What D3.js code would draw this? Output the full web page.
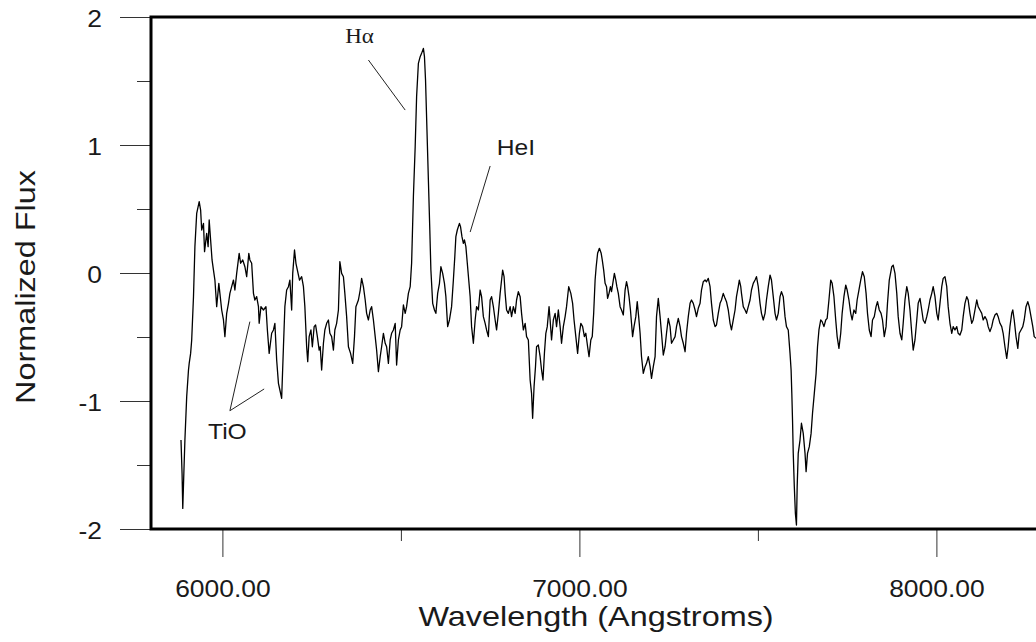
<!DOCTYPE html>
<html><head><meta charset="utf-8">
<script src="https://cdn.jsdelivr.net/npm/d3@7"></script>
<style>html,body{margin:0;padding:0;background:#fff;overflow:hidden}</style>
</head><body><svg id="chart" width="1036" height="642"></svg>
<script>
// ---- data ----
const wavelength = [
5884,5887,5889,5892,5895,5900,5905,5907,5911,5914,5919,5923,5928,5935,5939,5942,5947,5950,5956,5960,5963,5967,5971,5975,5979,5984,5990,5993,5998,6003,6007,6012,6017,6021,6026,6031,6035,6040,6047,6051,6057,6063,6068,6074,6077,6082,6087,6091,6096,6101,6103,6108,6115,6122,6126,6131,6138,6143,6147,6152,6157,6161,6166,6171,6175,6180,6185,6189,6194,6197,6202,6206,6210,6216,6222,6227,6231,6236,6239,
6243,6248,6252,6257,6261,6266,6271,6274,6278,6283,6287,6292,6297,6301,6306,6311,6315,6320,6325,6329,6334,6339,6343,6348,6353,6359,6365,6370,6374,6381,6386,6390,6395,6400,6404,6409,6414,6418,6423,6428,6432,6437,6442,6446,6451,6456,6460,6465,6470,6474,6479,6484,6488,6493,6498,6502,6507,6512,6516,6521,6526,6530,6535,6540,6544,6549,6554,6558,6563,6566,6569,6573,6577,6581,6584,6589,6594,6598,6603,6608,6612,6617,6622,6626,6631,6636,
6642,6647,6651,6654,6658,6664,6667,6671,6675,6678,6682,6686,6690,6694,6698,6703,6708,6712,6717,6722,6726,6731,6736,6740,6745,6750,6754,6759,6764,6768,6773,6778,6782,6785,6789,6792,6796,6801,6806,6810,6815,6820,6824,6829,6834,6838,6843,6848,6852,6857,6862,6866,6869,6873,6877,6880,6885,6890,6894,6898,6902,6906,6910,6915,6918,6922,6927,6932,6936,6941,6946,6950,6955,6960,6964,6970,6976,6981,6985,6990,6995,7000,7004,7009,7014,7018,7023,7027,7032,7036,7040,7044,7047,7051,7056,
7061,7064,7068,7072,7076,7079,7083,7087,7090,7095,7098,7102,7105,7109,7114,7118,7123,7128,7132,7135,7139,7143,7146,7149,7153,7158,7162,7166,7170,7174,7179,7184,7188,7193,7198,7202,7207,7212,7216,7221,7226,7230,7235,7240,7244,7249,7254,7258,7263,7268,7272,7277,7282,7286,7291,7296,7300,7305,7310,7314,7319,7324,7328,7333,7338,7342,7347,7352,7356,7361,7366,7370,7375,7380,7384,7389,7394,7398,7403,7408,7412,7417,7422,7426,7431,7436,7440,7445,7448,7452,7454,7459,7464,
7468,7473,7478,7482,7487,7492,7496,7501,7506,7510,7515,7520,7524,7529,7534,7538,7543,7548,7552,7557,7562,7566,7571,7576,7580,7585,7590,7593,7595,7597,7599,7602,7605,7608,7610,7613,7618,7622,7627,7632,7635,7639,7644,7649,7653,7658,7663,7667,7671,7676,7680,7685,7690,7694,7699,7704,7708,7713,7718,7722,7727,7732,7736,7741,7746,7750,7755,7760,7764,7769,7774,7778,7783,7788,7793,7798,7803,7807,7812,7817,7821,7826,7831,7835,7840,7845,7849,7854,7859,7863,7868,
7875,7879,7884,7889,7893,7898,7903,7907,7912,7917,7921,7926,7931,7935,7940,7945,7949,7954,7959,7963,7968,7973,7977,7982,7987,7991,7996,8001,8005,8010,8015,8019,8024,8029,8033,8038,8043,8047,8052,8057,8061,8066,8071,8075,8080,8085,8089,8094,8099,8103,8108,8113,8117,8122,8127,8131,8136,8141,8145,8150,8155,8159,8164,8169,8173,8178,8183,8187,8192,8197,8201,8206,8211,8214,8218,8223,8228,8232,8237,8242,8246,8251,8256,8260,8265,8270,8274,8279
];
const flux = [
-1.305,-1.565,-1.839,-1.565,-1.305,-0.966,-0.758,-0.706,-0.628,-0.523,-0.185,0.206,0.466,0.557,0.492,0.336,0.388,0.167,0.310,0.206,0.414,0.258,0.102,0.023,-0.055,-0.263,-0.081,-0.159,-0.289,-0.367,-0.497,-0.315,-0.237,-0.159,-0.107,-0.055,-0.133,-0.003,0.154,0.076,0.102,0.049,-0.029,0.154,0.102,0.076,-0.159,-0.211,-0.185,-0.263,-0.393,-0.263,-0.289,-0.263,-0.445,-0.628,-0.471,-0.445,-0.393,-0.680,-0.862,-0.914,-0.979,-0.576,-0.263,-0.133,-0.107,-0.055,-0.289,-0.003,0.180,0.076,0.023,-0.055,-0.029,-0.107,-0.263,-0.576,-0.693,
-0.497,-0.445,-0.576,-0.419,-0.406,-0.497,-0.602,-0.576,-0.758,-0.549,-0.445,-0.393,-0.367,-0.471,-0.497,-0.602,-0.445,-0.393,-0.289,0.089,-0.003,-0.029,-0.159,-0.341,-0.576,-0.628,-0.706,-0.497,-0.263,-0.211,-0.133,-0.042,-0.107,-0.211,-0.315,-0.367,-0.289,-0.263,-0.367,-0.497,-0.602,-0.771,-0.654,-0.576,-0.471,-0.549,-0.576,-0.706,-0.523,-0.471,-0.445,-0.393,-0.719,-0.523,-0.445,-0.419,-0.250,-0.315,-0.263,-0.159,-0.107,0.076,0.596,0.987,1.378,1.638,1.690,1.716,1.755,1.690,1.508,1.117,0.727,0.336,0.023,-0.237,-0.289,-0.315,-0.159,-0.081,0.049,-0.003,-0.081,-0.185,-0.419,-0.367,
-0.263,-0.055,0.128,0.284,0.336,0.388,0.362,0.284,0.232,0.258,0.206,0.076,-0.055,-0.185,-0.419,-0.549,-0.367,-0.263,-0.289,-0.133,-0.185,-0.341,-0.393,-0.445,-0.497,-0.211,-0.185,-0.263,-0.367,-0.445,-0.315,-0.159,-0.055,0.023,-0.029,-0.159,-0.289,-0.315,-0.263,-0.341,-0.263,-0.315,-0.211,-0.146,-0.185,-0.315,-0.445,-0.393,-0.497,-0.523,-0.836,-0.940,-1.135,-0.888,-0.732,-0.576,-0.563,-0.654,-0.758,-0.836,-0.628,-0.471,-0.419,-0.263,-0.367,-0.523,-0.367,-0.315,-0.419,-0.289,-0.419,-0.549,-0.419,-0.341,-0.263,-0.107,-0.159,-0.237,-0.367,-0.497,-0.628,-0.471,-0.393,-0.419,-0.497,-0.471,-0.576,-0.654,-0.523,-0.497,-0.315,-0.055,0.049,0.154,0.193,
0.154,0.102,0.023,-0.081,-0.107,-0.198,-0.159,-0.107,-0.146,-0.055,-0.003,-0.055,-0.107,-0.159,-0.263,-0.289,-0.328,-0.133,-0.068,-0.107,-0.185,-0.289,-0.393,-0.497,-0.419,-0.341,-0.224,-0.341,-0.471,-0.654,-0.784,-0.732,-0.706,-0.654,-0.732,-0.823,-0.732,-0.654,-0.341,-0.198,-0.341,-0.471,-0.641,-0.576,-0.471,-0.354,-0.419,-0.549,-0.523,-0.497,-0.419,-0.354,-0.419,-0.497,-0.549,-0.615,-0.471,-0.341,-0.237,-0.211,-0.237,-0.289,-0.341,-0.276,-0.237,-0.133,-0.068,-0.055,-0.068,-0.042,-0.107,-0.237,-0.367,-0.419,-0.406,-0.315,-0.237,-0.211,-0.159,-0.198,-0.224,-0.289,-0.393,-0.445,-0.367,-0.289,-0.185,-0.107,-0.055,-0.107,-0.159,-0.263,-0.289,
-0.315,-0.263,-0.211,-0.133,-0.081,-0.055,-0.029,-0.107,-0.237,-0.315,-0.367,-0.315,-0.211,-0.107,-0.016,-0.055,-0.185,-0.315,-0.367,-0.315,-0.185,-0.146,-0.185,-0.341,-0.419,-0.445,-0.628,-0.758,-0.940,-1.148,-1.409,-1.669,-1.878,-1.969,-1.669,-1.409,-1.305,-1.174,-1.253,-1.409,-1.552,-1.409,-1.357,-1.253,-1.096,-0.940,-0.784,-0.576,-0.445,-0.367,-0.380,-0.419,-0.367,-0.354,-0.211,-0.055,-0.081,-0.185,-0.367,-0.497,-0.589,-0.471,-0.315,-0.185,-0.094,-0.133,-0.211,-0.315,-0.367,-0.289,-0.315,-0.211,-0.133,-0.055,0.010,-0.029,-0.159,-0.315,-0.445,-0.497,-0.367,-0.341,-0.263,-0.224,-0.289,-0.315,-0.367,-0.497,-0.419,-0.237,-0.055,
0.049,0.062,-0.003,-0.159,-0.341,-0.471,-0.523,-0.393,-0.211,-0.107,-0.159,-0.289,-0.471,-0.602,-0.523,-0.367,-0.237,-0.198,-0.289,-0.367,-0.393,-0.341,-0.289,-0.211,-0.159,-0.107,-0.185,-0.315,-0.367,-0.237,-0.107,-0.042,-0.029,-0.107,-0.263,-0.393,-0.471,-0.419,-0.445,-0.419,-0.471,-0.484,-0.445,-0.341,-0.237,-0.185,-0.211,-0.315,-0.393,-0.367,-0.289,-0.211,-0.263,-0.289,-0.315,-0.367,-0.341,-0.367,-0.419,-0.458,-0.419,-0.367,-0.328,-0.315,-0.341,-0.393,-0.419,-0.471,-0.576,-0.667,-0.576,-0.419,-0.315,-0.289,-0.367,-0.497,-0.589,-0.471,-0.445,-0.419,-0.367,-0.263,-0.224,-0.263,-0.341,-0.419,-0.497,-0.510
];
const yMajorTicks = [-2, -1, 0, 1, 2];
const yTickLabels = ["-2", "-1", "0", "1", "2"];
const yMinorTicks = [-1.5, -0.5, 0.5, 1.5];
const xMajorTicks = [6000, 7000, 8000];
const xTickLabels = ["6000.00", "7000.00", "8000.00"];
const xMinorTicks = [6500, 7500];
const xTitle = "Wavelength (Angstroms)";
const yTitle = "Normalized Flux";
// annotations: label, anchor (wavelength, flux), leader lines
const annLabels = ["Hα", "HeI", "TiO"];
const annAnchors = [[6384, 1.797], [6822, 0.922], [6014, -1.299]];
const annLines = [
  [[6409, 1.664, 6512, 1.273]],
  [[6750, 0.836, 6694, 0.32]],
  [[6021, -1.076, 6077, -0.38], [6021, -1.076, 6117, -0.906]]
];

// ---- drawing ----
const svg = d3.select("#chart");
const x = d3.scaleLinear().domain([5800, 8300]).range([151, 151 + 2500 * 0.357]);
const y = d3.scaleLinear().domain([-2, 2]).range([529, 17]);
const sans = "'Liberation Sans', Arial, sans-serif";
const ink = "#1a1a1a";

// spectrum
const pts = wavelength.map((w, i) => [w, flux[i]]);
svg.append("path")
  .datum(pts)
  .attr("fill", "none")
  .attr("stroke", "#000")
  .attr("stroke-width", 1.3)
  .attr("stroke-linejoin", "round")
  .attr("d", d3.line().x(d => x(d[0])).y(d => y(d[1])));

// y axis
const yAx = svg.append("g").attr("transform", "translate(151,0)")
  .call(d3.axisLeft(y).tickValues(yMajorTicks).tickSize(31).tickFormat((d, i) => yTickLabels[i]));
const yMin = svg.append("g").attr("transform", "translate(151,0)")
  .call(d3.axisLeft(y).tickValues(yMinorTicks).tickSize(14).tickFormat(""));
const xAx = svg.append("g").attr("transform", "translate(0,529)")
  .call(d3.axisBottom(x).tickValues(xMajorTicks).tickSize(28).tickFormat((d, i) => xTickLabels[i]));
const xMin = svg.append("g").attr("transform", "translate(0,529)")
  .call(d3.axisBottom(x).tickValues(xMinorTicks).tickSize(12).tickFormat(""));
[yAx, yMin, xAx, xMin].forEach(g => {
  g.select(".domain").remove();
  g.selectAll("line").attr("stroke", "#333").attr("stroke-width", 1);
});
yAx.selectAll("text")
  .attr("x", 0).attr("dy", null)
  .attr("transform", "translate(-49,9) scale(1.15,1)")
  .attr("text-anchor", "end")
  .style("font-family", sans).style("font-size", "23px").attr("fill", ink);
xAx.selectAll("text")
  .attr("y", 0).attr("dy", null)
  .attr("transform", "translate(0,68) scale(1.15,1)")
  .attr("text-anchor", "middle")
  .style("font-family", sans).style("font-size", "23px").attr("fill", ink);

// plot frame
svg.append("rect")
  .attr("x", x(5800)).attr("y", y(2))
  .attr("width", x(8300) - x(5800)).attr("height", y(-2) - y(2))
  .attr("fill", "none").attr("stroke", "#000").attr("stroke-width", 3);

// titles
svg.append("text")
  .attr("transform", `translate(${(417 + 775) / 2},626) scale(1.2,1)`)
  .attr("text-anchor", "middle")
  .style("font-family", sans).style("font-size", "27px").attr("fill", ink)
  .text(xTitle);
svg.append("text")
  .attr("transform", `translate(35,287) rotate(-90) scale(1.2,1)`)
  .attr("text-anchor", "middle")
  .style("font-family", sans).style("font-size", "27px").attr("fill", ink)
  .text(yTitle);

// annotations
annLabels.forEach((lab, i) => {
  const [w, f] = annAnchors[i];
  const serif = lab === "Hα";
  svg.append("text")
    .attr("transform", `translate(${x(w)},${y(f)}) scale(${serif ? 1.15 : 1.12},1)`)
    .attr("text-anchor", "middle")
    .style("font-family", serif ? "'Liberation Serif', 'Times New Roman', serif" : sans)
    .style("font-size", serif ? "20px" : "22px")
    .attr("fill", ink)
    .text(lab);
  annLines[i].forEach(l => {
    svg.append("line")
      .attr("x1", x(l[0])).attr("y1", y(l[1]))
      .attr("x2", x(l[2])).attr("y2", y(l[3]))
      .attr("stroke", "#222").attr("stroke-width", 1);
  });
});
</script></body></html>
